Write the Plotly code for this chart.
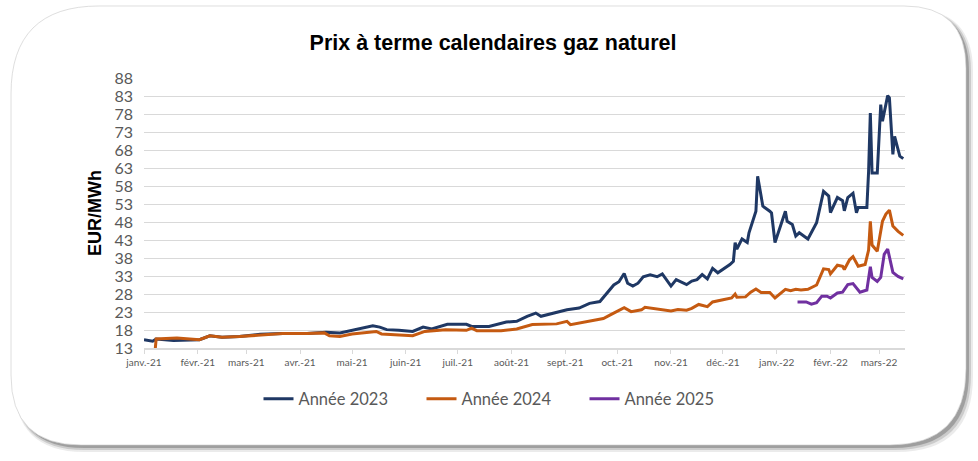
import plotly.graph_objects as go

# --- data (EUR/MWh) ---
dates_2023 = [
    "2021-01-01", "2021-01-06", "2021-01-08", "2021-01-18", "2021-02-02", "2021-02-08",
    "2021-02-15", "2021-02-25", "2021-03-09", "2021-03-22", "2021-04-05", "2021-04-16",
    "2021-04-24", "2021-05-01", "2021-05-13", "2021-05-17", "2021-05-21", "2021-05-28",
    "2021-06-05", "2021-06-11", "2021-06-16", "2021-06-25", "2021-07-06", "2021-07-09",
    "2021-07-19", "2021-07-29", "2021-08-04", "2021-08-10", "2021-08-15", "2021-08-18",
    "2021-08-25", "2021-09-02", "2021-09-09", "2021-09-15", "2021-09-21", "2021-09-25",
    "2021-09-29", "2021-10-02", "2021-10-05", "2021-10-07", "2021-10-10", "2021-10-13",
    "2021-10-16", "2021-10-20", "2021-10-24", "2021-10-27", "2021-10-30", "2021-11-01",
    "2021-11-04", "2021-11-07", "2021-11-10", "2021-11-13", "2021-11-16", "2021-11-19",
    "2021-11-22", "2021-11-25", "2021-11-28", "2021-12-05", "2021-12-07", "2021-12-08",
    "2021-12-09", "2021-12-12", "2021-12-15", "2021-12-16", "2021-12-20", "2021-12-21",
    "2021-12-24", "2021-12-28", "2021-12-29", "2021-12-31", "2022-01-06", "2022-01-07",
    "2022-01-10", "2022-01-12", "2022-01-14", "2022-01-19", "2022-01-24", "2022-01-28",
    "2022-01-31", "2022-02-01", "2022-02-05", "2022-02-08", "2022-02-09", "2022-02-11",
    "2022-02-14", "2022-02-16", "2022-02-17", "2022-02-22", "2022-02-23", "2022-02-24",
    "2022-02-25", "2022-02-28", "2022-03-02", "2022-03-03", "2022-03-06", "2022-03-07",
    "2022-03-09", "2022-03-10", "2022-03-13", "2022-03-15",
]
prix_2023 = [
    15.3, 14.9, 15.5, 15.1, 15.3, 16.4,
    16.0, 16.2, 16.8, 17.0, 17.0, 17.4,
    17.2, 17.9, 19.2, 18.8, 18.1, 17.9,
    17.6, 18.8, 18.3, 19.6, 19.6, 19.0,
    19.0, 20.2, 20.4, 21.8, 22.7, 21.8,
    22.7, 23.6, 24.1, 25.4, 25.9, 28.2,
    30.5, 31.4, 33.7, 31.0, 30.2, 31.0,
    32.8, 33.3, 32.8, 33.6, 31.6, 30.2,
    32.0, 31.3, 30.6, 31.6, 32.0, 33.4,
    32.2, 35.1, 33.9, 36.2, 37.1, 42.3,
    40.5, 43.3, 42.3, 45.0, 51.0, 60.7,
    52.4, 51.0, 50.5, 42.3, 51.0, 48.2,
    47.3, 44.1, 45.0, 43.3, 47.8, 56.5,
    55.2, 50.6, 54.8, 53.9, 51.1, 54.8,
    56.0, 50.6, 52.0, 52.0, 62.1, 78.3,
    61.6, 61.6, 80.6, 76.0, 83.1, 82.5,
    66.8, 71.8, 66.3, 65.6,
]

dates_2024 = [
    "2021-01-07", "2021-01-08", "2021-01-20", "2021-02-02", "2021-02-08", "2021-02-15",
    "2021-02-25", "2021-03-09", "2021-03-22", "2021-04-05", "2021-04-15", "2021-04-18",
    "2021-04-24", "2021-05-01", "2021-05-15", "2021-05-18", "2021-05-28", "2021-06-05",
    "2021-06-12", "2021-06-24", "2021-07-06", "2021-07-09", "2021-07-12", "2021-07-26",
    "2021-08-04", "2021-08-13", "2021-08-27", "2021-09-02", "2021-09-04", "2021-09-14",
    "2021-09-23", "2021-09-27", "2021-10-05", "2021-10-09", "2021-10-15", "2021-10-17",
    "2021-10-30", "2021-11-01", "2021-11-05", "2021-11-10", "2021-11-13", "2021-11-17",
    "2021-11-22", "2021-11-25", "2021-12-01", "2021-12-06", "2021-12-08", "2021-12-09",
    "2021-12-14", "2021-12-17", "2021-12-20", "2021-12-23", "2021-12-28", "2021-12-31",
    "2022-01-06", "2022-01-09", "2022-01-12", "2022-01-15", "2022-01-19", "2022-01-24",
    "2022-01-28", "2022-01-31", "2022-02-01", "2022-02-05", "2022-02-08", "2022-02-09",
    "2022-02-12", "2022-02-14", "2022-02-17", "2022-02-21", "2022-02-23", "2022-02-24",
    "2022-02-25", "2022-02-28", "2022-03-03", "2022-03-05", "2022-03-07", "2022-03-09",
    "2022-03-12", "2022-03-15",
]
prix_2024 = [
    10.0, 15.5, 15.8, 15.3, 16.4, 16.0,
    16.2, 16.6, 17.0, 17.0, 17.2, 16.4,
    16.2, 16.9, 17.6, 16.9, 16.7, 16.4,
    17.6, 18.1, 17.9, 18.5, 17.8, 17.8,
    18.3, 19.5, 19.7, 20.4, 19.5, 20.4,
    21.2, 22.2, 24.2, 23.1, 23.6, 24.3,
    23.6, 23.3, 23.7, 23.5, 24.0, 25.1,
    24.5, 25.8, 26.4, 26.9, 28.0, 27.1,
    27.2, 28.5, 29.4, 28.4, 28.4, 26.9,
    29.3, 28.9, 29.3, 29.1, 29.3, 30.5,
    35.0, 34.8, 33.6, 36.0, 35.7, 34.8,
    37.5, 38.4, 35.7, 36.2, 40.2, 48.2,
    41.6, 39.9, 48.2, 50.2, 51.3, 46.9,
    45.4, 44.3,
]

dates_2025 = [
    "2022-01-13", "2022-01-18", "2022-01-21", "2022-01-24", "2022-01-27", "2022-01-30",
    "2022-02-01", "2022-02-05", "2022-02-08", "2022-02-11", "2022-02-14", "2022-02-18",
    "2022-02-22", "2022-02-24", "2022-02-25", "2022-02-28", "2022-03-02", "2022-03-04",
    "2022-03-06", "2022-03-09", "2022-03-12", "2022-03-15",
]
prix_2025 = [
    25.8, 25.8, 25.2, 25.6, 27.4, 27.4,
    26.9, 28.3, 28.5, 30.6, 30.9, 28.5,
    29.1, 35.6, 32.6, 31.5, 32.6, 39.0,
    40.5, 34.0, 32.9, 32.2,
]

mois_ticks = [
    "2021-01-01", "2021-02-01", "2021-03-01", "2021-04-01", "2021-05-01",
    "2021-06-01", "2021-07-01", "2021-08-01", "2021-09-01", "2021-10-01",
    "2021-11-01", "2021-12-01", "2022-01-01", "2022-02-01", "2022-03-01",
]
mois_labels = [
    "janv.-21", "févr.-21", "mars-21", "avr.-21", "mai-21", "juin-21", "juil.-21",
    "août-21", "sept.-21", "oct.-21", "nov.-21", "déc.-21", "janv.-22", "févr.-22",
    "mars-22",
]

W, H = 978, 461
L, R, T, B = 144, 73, 78, 113
PW, PH = W - L - R, H - T - B


def px(x):
    return (x - L) / PW


def py(y):
    return (H - B - y) / PH


def rounded_rect(x0, y0, x1, y1, r_tl, r_tr, r_br, r_bl, dx=0, dy=0):
    x0, x1, y0, y1 = x0 + dx, x1 + dx, y0 + dy, y1 + dy
    pts = [
        ("M", [(x0 + r_tl, y0)]),
        ("L", [(x1 - r_tr, y0)]),
        ("Q", [(x1, y0), (x1, y0 + r_tr)]),
        ("L", [(x1, y1 - r_br)]),
        ("Q", [(x1, y1), (x1 - r_br, y1)]),
        ("L", [(x0 + r_bl, y1)]),
        ("Q", [(x0, y1), (x0, y1 - r_bl)]),
        ("L", [(x0, y0 + r_tl)]),
        ("Q", [(x0, y0), (x0 + r_tl, y0)]),
    ]
    s = ""
    for cmd, coords in pts:
        s += cmd + " " + " ".join(f"{px(a):.5f},{py(b):.5f}" for a, b in coords) + " "
    return s + "Z"


fig = go.Figure()

colors = {"2023": "#1f3864", "2024": "#c55a11", "2025": "#7030a0"}
for name, xs, ys in [("2023", dates_2023, prix_2023),
                     ("2024", dates_2024, prix_2024),
                     ("2025", dates_2025, prix_2025)]:
    fig.add_trace(go.Scatter(
        x=xs, y=ys, mode="lines", name=f"Année {name}",
        line=dict(color=colors[name], width=3),
    ))

# frame with soft shadow
shapes = []
for off, grow, op in [(5, 2, 0.10), (4, 1, 0.18), (3, 0, 0.30)]:
    shapes.append(dict(
        type="path", xref="paper", yref="paper", layer="below",
        path=rounded_rect(11 - grow, 6 - grow, 966 + grow, 445 + grow, 88, 62, 76, 70, off, off),
        fillcolor=f"rgba(60,60,60,{op})", line=dict(width=0),
    ))
shapes.append(dict(
    type="path", xref="paper", yref="paper", layer="below",
    path=rounded_rect(11, 6, 966, 445, 88, 62, 76, 70),
    fillcolor="white", line=dict(color="rgba(200,200,200,0.6)", width=1),
))

fig.update_layout(
    width=W, height=H,
    margin=dict(l=L, r=R, t=T, b=B),
    paper_bgcolor="white",
    plot_bgcolor="rgba(0,0,0,0)",
    shapes=shapes,
    title=dict(
        text="<b>Prix à terme calendaires gaz naturel</b>",
        x=493 / W, xanchor="center", y=1 - 42 / H, yanchor="middle",
        font=dict(family="Liberation Sans, Arial", size=21.5, color="black"),
    ),
    showlegend=True,
    legend=dict(
        orientation="h", x=px(503), xanchor="center", y=py(399), yanchor="middle",
        font=dict(family="Lato", size=16.5, color="#595959"),
        entrywidth=118, entrywidthmode="pixels",
        bgcolor="rgba(0,0,0,0)",
    ),
    xaxis=dict(
        type="date", range=["2021-01-01", "2022-03-16"],
        tickvals=mois_ticks, ticktext=mois_labels,
        tickfont=dict(family="Lato", size=10, color="#595959"),
        showgrid=False, showline=True, linecolor="#d9d9d9", linewidth=2,
        ticks="outside", ticklen=4, tickcolor="#d9d9d9", tickwidth=1,
        zeroline=False,
    ),
    yaxis=dict(
        range=[13, 88], tickvals=list(range(13, 89, 5)),
        tickfont=dict(family="Lato", size=16, color="#595959"),
        showgrid=True, gridcolor="#d9d9d9", gridwidth=1,
        zeroline=False, ticks="", ticklabelstandoff=10,
        title=dict(text="<b>EUR/MWh</b>", standoff=8,
                   font=dict(family="Liberation Sans, Arial", size=18, color="black")),
    ),
)

fig.write_html("out.html", config={"displayModeBar": False},
               post_script="document.body.style.margin = '0px';")
